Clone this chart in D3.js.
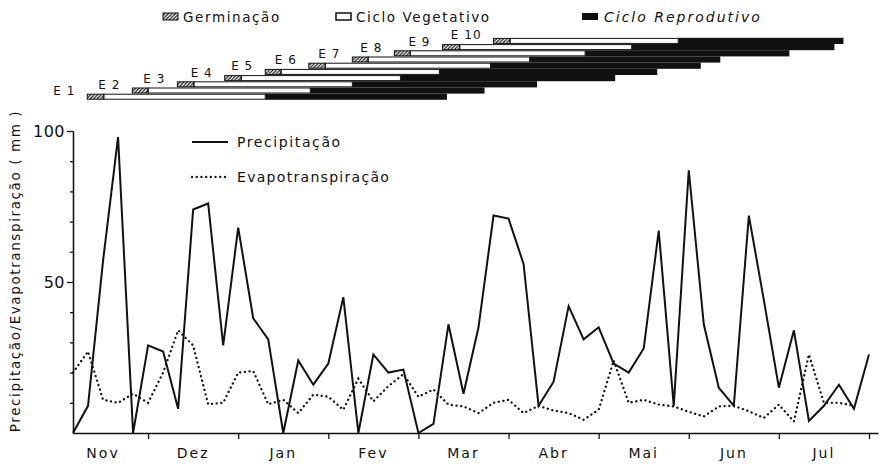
<!DOCTYPE html>
<html>
<head>
<meta charset="utf-8">
<script src="https://cdn.jsdelivr.net/npm/d3@7"></script>
<style>
    body { margin: 0; background: #fff; }
    text { font-family: "DejaVu Sans", sans-serif; fill: #111; }
</style>
</head>
<body>
<div id="chart"></div>
<script>
// pentad values (5-day periods), index 0 = early Nov
const precipitacao = [0, 9, 57, 98, 0, 29, 27, 8, 74, 76, 29, 68, 38, 31,
    0, 24, 16, 23, 45, 0, 26, 20, 21, 0, 3, 36, 13, 35,
    72, 71, 56, 9, 17, 42, 31, 35, 23, 20, 28, 67, 9, 87,
    36, 15, 9, 72, 44, 15, 34, 4, 9, 16, 8, 26];
const evapotranspiracao = [20, 27, 11, 10, 13, 10, 20, 34, 29, 9.5, 10, 20, 20.5, 9.5,
    11, 6.6, 12.7, 12, 7.7, 18, 10.5, 15.5, 19.5, 12, 14.4, 9.4, 8.8, 6.6,
    10, 11, 6.6, 9, 7.4, 6.6, 4.4, 7.7, 24, 10, 11, 9.4, 8.8, 7,
    5.5, 8.8, 9, 7.2, 5, 9.4, 3.8, 26, 10, 10, 9];

const meses = ["Nov", "Dez", "Jan", "Fev", "Mar", "Abr", "Mai", "Jun", "Jul"];
const mesLabelAt = [2, 8, 14, 20, 26, 32, 38, 44, 50];
const mesTicks = [5, 11, 17, 23, 29, 35, 41, 47, 53];
const yMinorTicks = [10, 20, 30, 40, 60, 70, 80, 90];
const yMajorTicks = [50, 100];

// sowing dates E1..E10, in pentads on the same axis
const epocas = ["E 1", "E 2", "E 3", "E 4", "E 5", "E 6", "E 7", "E 8", "E 9", "E 10"];
const semeadura = [0.95, 3.95, 6.95, 10.1, 12.8, 15.7, 18.6, 21.4, 24.6, 28.0];
const fimGerminacao = [2.05, 5.0, 8.05, 11.2, 13.85, 16.8, 19.65, 22.45, 25.75, 29.1];
const fimVegetativo = [12.8, 15.8, 18.6, 21.8, 24.4, 27.8, 30.4, 34.1, 37.2, 40.3];
const fimReprodutivo = [24.9, 27.4, 30.9, 36.1, 38.9, 41.8, 43.1, 47.7, 50.7, 51.3];

const WIDTH = 880;
const HEIGHT = 466;

let svg = d3.select("#chart").append("svg")
    .attr("width", WIDTH)
    .attr("height", HEIGHT);

// hatch for germination boxes
svg.append("defs").append("pattern")
    .attr("id", "hatch")
    .attr("patternUnits", "userSpaceOnUse")
    .attr("width", 3.5).attr("height", 3.5)
    .append("path")
    .attr("d", "M-1,1 l2,-2 M0,3.5 l3.5,-3.5 M2.5,4.5 l2,-2")
    .attr("stroke", "#111").attr("stroke-width", 1.1);

const x = d3.scaleLinear().domain([0, 53.6]).range([73, 878]);
const y = d3.scaleLinear().domain([0, 100]).range([433, 131]);

// ---- axes
let yMinor = d3.axisLeft(y).tickValues(yMinorTicks).tickSize(3).tickSizeOuter(0).tickFormat("");
let yMajor = d3.axisLeft(y).tickValues(yMajorTicks).tickSize(6).tickSizeOuter(0).tickPadding(2);
svg.append("g").attr("transform", "translate(73,0)").call(yMinor);
let ya = svg.append("g").attr("transform", "translate(73,0)").call(yMajor);
ya.selectAll("text")
    .style("font-size", "16px")
    .style("letter-spacing", "0.5px")
    .style("font-family", "DejaVu Sans");

svg.append("g").attr("transform", "translate(0,433)")
    .call(d3.axisBottom(x).tickValues(mesTicks).tickSize(6).tickSizeOuter(0).tickFormat(""));
svg.selectAll(".domain, .tick line").attr("stroke", "#111").attr("stroke-width", 1.3);

svg.append("g").selectAll("text")
    .data(meses)
    .join("text")
    .attr("x", (d, i) => x(mesLabelAt[i]))
    .attr("y", 458)
    .attr("text-anchor", "middle")
    .style("font-size", "14px")
    .style("letter-spacing", "2px")
    .text(d => d);

svg.append("text")
    .attr("transform", "translate(20,271) rotate(-90)")
    .attr("text-anchor", "middle")
    .style("font-size", "13.5px")
    .style("letter-spacing", "1.6px")
    .text("Precipitação/Evapotranspiração ( mm )");

// ---- lines
let line = d3.line().x((d, i) => x(i)).y(d => y(d));

svg.append("path")
    .attr("d", line(evapotranspiracao))
    .attr("fill", "none")
    .attr("stroke", "#111")
    .attr("stroke-width", 2.3)
    .attr("stroke-linecap", "round")
    .attr("stroke-dasharray", "0.1,4.6");

svg.append("path")
    .attr("d", line(precipitacao))
    .attr("fill", "none")
    .attr("stroke", "#111")
    .attr("stroke-width", 2)
    .attr("stroke-linejoin", "miter");

// line legend
let leg = svg.append("g");
leg.append("line").attr("x1", 192).attr("x2", 228).attr("y1", 142).attr("y2", 142)
    .attr("stroke", "#111").attr("stroke-width", 2);
leg.append("line").attr("x1", 192).attr("x2", 228).attr("y1", 177).attr("y2", 177)
    .attr("stroke", "#111").attr("stroke-width", 2.3)
    .attr("stroke-linecap", "round").attr("stroke-dasharray", "0.1,4.6");
leg.append("text").attr("x", 237).attr("y", 147)
    .style("font-size", "14px").style("letter-spacing", "1.6px").text("Precipitação");
leg.append("text").attr("x", 237).attr("y", 182)
    .style("font-size", "14px").style("letter-spacing", "1.3px").text("Evapotranspiração");

// ---- crop cycle bars (E1 at the bottom)
const row = d3.scaleBand().domain(epocas).range([99.8, 37.8]);
const bh = row.bandwidth();

let bars = svg.append("g");
epocas.forEach(function (e, i) {
    bars.append("rect")
        .attr("x", x(fimVegetativo[i]))
        .attr("y", row(e))
        .attr("width", x(fimReprodutivo[i]) - x(fimVegetativo[i]))
        .attr("height", bh)
        .attr("fill", "#111");
});
epocas.forEach(function (e, i) {
    let ry = row(e);
    bars.append("rect")
        .attr("x", x(fimGerminacao[i]))
        .attr("y", ry + 0.6)
        .attr("width", x(fimVegetativo[i]) - x(fimGerminacao[i]))
        .attr("height", bh - 1.2)
        .attr("fill", "#fff")
        .attr("stroke", "#111")
        .attr("stroke-width", 1);
    bars.append("rect")
        .attr("x", x(semeadura[i]))
        .attr("y", ry + 0.6)
        .attr("width", x(fimGerminacao[i]) - x(semeadura[i]))
        .attr("height", bh - 1.2)
        .attr("fill", "url(#hatch)")
        .attr("stroke", "#111")
        .attr("stroke-width", 1);
    bars.append("text")
        .attr("x", x(semeadura[i]) - 12)
        .attr("y", ry + 1.5)
        .attr("text-anchor", "end")
        .style("font-size", "12px")
        .style("letter-spacing", "1px")
        .text(e);
});

// ---- top legend
let legTop = svg.append("g");
legTop.append("rect").attr("x", 163).attr("y", 13).attr("width", 15).attr("height", 7)
    .attr("fill", "url(#hatch)").attr("stroke", "#111");
legTop.append("text").attr("x", 183).attr("y", 22)
    .style("font-size", "13.5px").style("letter-spacing", "1.6px").text("Germinação");
legTop.append("rect").attr("x", 336).attr("y", 13).attr("width", 15).attr("height", 7)
    .attr("fill", "#fff").attr("stroke", "#111").attr("stroke-width", 1.5);
legTop.append("text").attr("x", 356).attr("y", 22)
    .style("font-size", "13.5px").style("letter-spacing", "1.6px").text("Ciclo Vegetativo");
legTop.append("rect").attr("x", 582).attr("y", 13).attr("width", 16).attr("height", 7)
    .attr("fill", "#111");
legTop.append("text").attr("x", 604).attr("y", 22)
    .style("font-size", "14px").style("font-style", "italic")
    .style("letter-spacing", "2px").text("Ciclo Reprodutivo");
</script>
</body>
</html>
